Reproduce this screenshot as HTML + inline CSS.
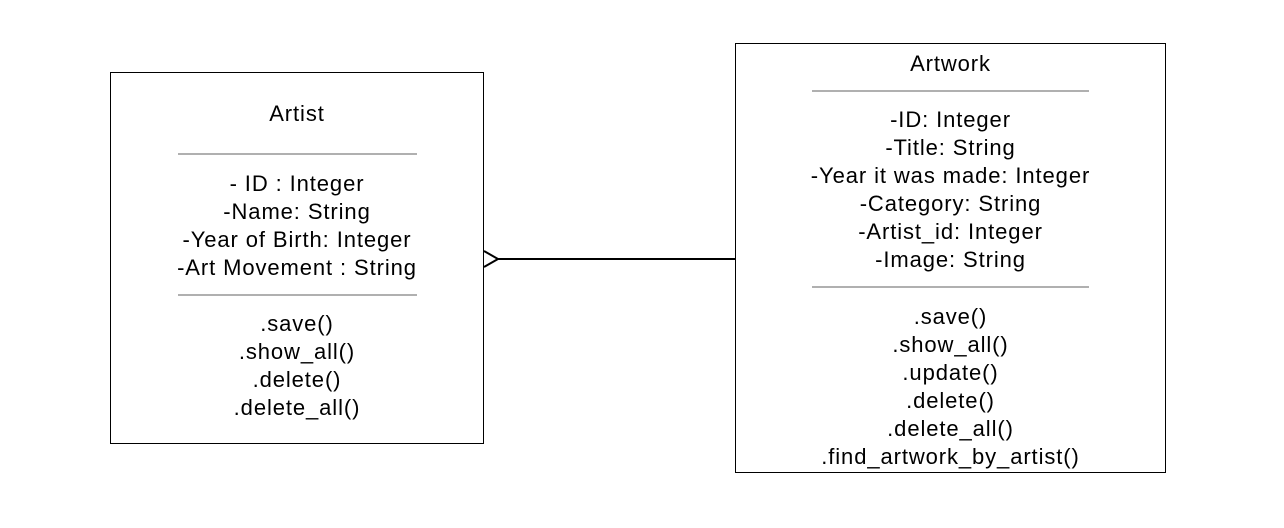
<!DOCTYPE html>
<html><head><style>
body{margin:0;width:1284px;height:528px;background:#fff;position:relative;overflow:hidden;font-family:"Liberation Sans",sans-serif;font-size:22px;letter-spacing:0.9px;color:#000}
.b{position:absolute;border:1.5px solid #000;box-sizing:border-box}
.t{position:absolute;text-align:center;line-height:28px;white-space:nowrap}
.s{position:absolute;height:2px;background:#b0b0b0}
</style></head><body>
<div class="b" style="left:110px;top:72px;width:374px;height:372px"></div>
<div class="b" style="left:735px;top:43px;width:431px;height:430px"></div>
<div class="t" style="left:110px;width:374px;top:100px">Artist</div>
<div class="s" style="left:178px;width:239px;top:153px"></div>
<div class="t" style="left:110px;width:374px;top:170px">- ID : Integer<br>-Name: String<br>-Year of Birth: Integer<br>-Art Movement : String</div>
<div class="s" style="left:178px;width:239px;top:294px"></div>
<div class="t" style="left:110px;width:374px;top:310px">.save()<br>.show_all()<br>.delete()<br>.delete_all()</div>
<div class="t" style="left:735px;width:431px;top:50px">Artwork</div>
<div class="s" style="left:812px;width:277px;top:90px"></div>
<div class="t" style="left:735px;width:431px;top:106px">-ID: Integer<br>-Title: String<br>-Year it was made: Integer<br>-Category: String<br>-Artist_id: Integer<br>-Image: String</div>
<div class="s" style="left:812px;width:277px;top:286px"></div>
<div class="t" style="left:735px;width:431px;top:303px">.save()<br>.show_all()<br>.update()<br>.delete()<br>.delete_all()<br>.find_artwork_by_artist()</div>
<svg style="position:absolute;left:0;top:0" width="1284" height="528">
<g stroke="#000" stroke-width="2" fill="none">
<line x1="498" y1="259" x2="735" y2="259"/>
<polyline points="484,251 498,259 484,267"/>
</g></svg>
</body></html>
